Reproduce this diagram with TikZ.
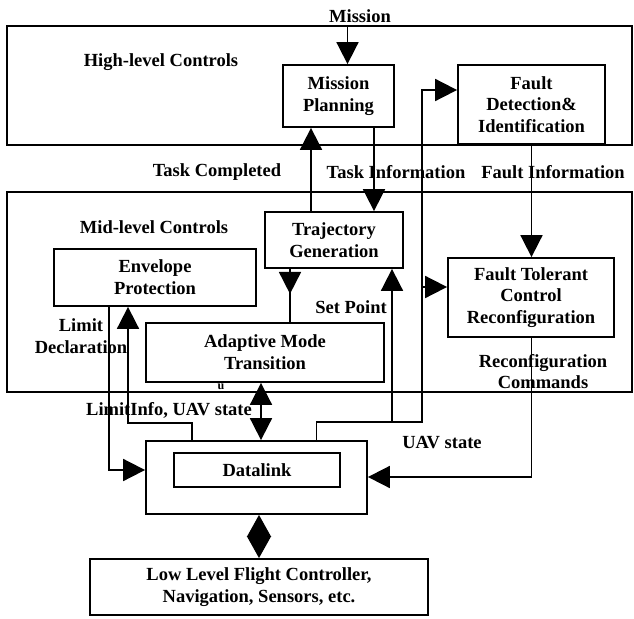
\documentclass[tikz,border=0pt]{standalone}
\usepackage{fontspec}
\setmainfont{Liberation Serif}
\usetikzlibrary{arrows.meta}
\begin{document}
\begin{tikzpicture}[x=1pt,y=-1pt,
  every node/.style={font=\fontsize{18.5}{21.7}\selectfont\bfseries, align=center, inner sep=0pt},
  box/.style={draw, line width=1.8pt},
  wire/.style={line width=1.8pt},
  arr/.style={wire, -{Triangle[length=22pt,width=22pt]}},
  both/.style={wire, {Triangle[length=22pt,width=22pt]}-{Triangle[length=22pt,width=22pt]}},
  diam/.style={wire, {Triangle[length=22pt,width=24pt]}-{Triangle[length=22pt,width=24pt]}}]
\useasboundingbox (0,0) rectangle (634,618);

% control layers
\node[box, minimum width=625pt, minimum height=119pt] (high) at (319.5,85.5) {};
\node[box, minimum width=625pt, minimum height=200pt] (mid) at (319.5,292) {};

% blocks
\node[box, minimum width=111pt, minimum height=62pt] (mp) at (338.5,96) {Mission\\Planning};
\node[box, minimum width=147pt, minimum height=79pt] (fd) at (531.5,104.5) {Fault\\Detection\&\\Identification};
\node[box, minimum width=138pt, minimum height=56pt] (traj) at (334,240) {Trajectory\\Generation};
\node[box, minimum width=202pt, minimum height=57pt] (env) at (155,277.5) {Envelope\\Protection};
\node[box, minimum width=166pt, minimum height=79pt] (ft) at (531,297.5) {Fault Tolerant\\Control\\Reconfiguration};
\node[box, minimum width=238pt, minimum height=59pt] (amt) at (265,352.5) {Adaptive Mode\\Transition};
\node[box, minimum width=221pt, minimum height=73pt] (dlo) at (256.5,477.5) {};
\node[box, minimum width=166pt, minimum height=34pt] (dli) at (257,470) {Datalink};
\node[box, minimum width=338pt, minimum height=56pt] (ll) at (259,587) {Low Level Flight Controller,\\Navigation, Sensors, etc.};

% labels
\node (mission) at (360,16) {Mission};
\node (hlc) at (161,62) {High-level Controls};
\node (mlc) at (154,227) {Mid-level Controls};
\node (tc) at (217,172) {Task Completed};
\node (ti) at (396,172) {Task Information};
\node (fi) at (553,172) {Fault Information};
\node (sp) at (351,307) {Set Point};
\node (ld) at (81,336) {Limit\\Declaration};
\node (rc) at (543,371.5) {Reconfiguration\\Commands};
\node[font=\fontsize{12}{13}\selectfont\bfseries] (u) at (221,387) {u};
\node (li) at (169,410) {LimitInfo, UAV state};
\node (us) at (442,443) {UAV state};

% routing positions
\coordinate (xM) at (347.5,0);
\coordinate (xTC) at (311,0);
\coordinate (xTI) at (374,0);
\coordinate (xFI) at (531.5,0);
\coordinate (xUS) at (316.5,0);
\coordinate (xSP) at (392,0);
\coordinate (xBus) at (422,0);
\coordinate (xTA) at (290,0);
\coordinate (xLI) at (192,0);
\coordinate (xEP) at (128,0);
\coordinate (xLD) at (109,0);
\coordinate (xAM) at (261,0);
\coordinate (xLL) at (259,0);
\coordinate (yUS) at (0,422);
\coordinate (yFD) at (0,90);
\coordinate (yFT) at (0,287);
\coordinate (yLI) at (0,423);
\coordinate (yLD) at (0,470);
\coordinate (yRC) at (0,477);

% connectors
\draw[arr] (high.north -| xM) -- (mp.north -| xM);
\draw[arr] (traj.north -| xTC) -- (mp.south -| xTC);
\draw[arr] (mp.south -| xTI) -- (traj.north -| xTI);
\draw[arr] (fd.south -| xFI) -- (ft.north -| xFI);
\draw[arr] (dlo.north -| xUS) |- (xBus |- yUS) -- (xBus |- yFD) -- (fd.west |- yFD);
\draw[arr] (xSP |- yUS) -- (traj.south -| xSP);
\draw[arr] (xBus |- yFT) -- (ft.west |- yFT);
\draw[wire] (traj.south -| xTA) -- (amt.north -| xTA);
\draw[arr] (traj.south -| xTA) -- ++(0,25);
\draw[arr] (dlo.north -| xLI) |- (xEP |- yLI) -- (env.south -| xEP);
\draw[arr] (env.south -| xLD) |- (dlo.west |- yLD);
\draw[both] (amt.south -| xAM) -- (dlo.north -| xAM);
\draw[arr] (ft.south -| xFI) |- (dlo.east |- yRC);
\draw[diam] (dlo.south -| xLL) -- (ll.north -| xLL);
\end{tikzpicture}
\end{document}
